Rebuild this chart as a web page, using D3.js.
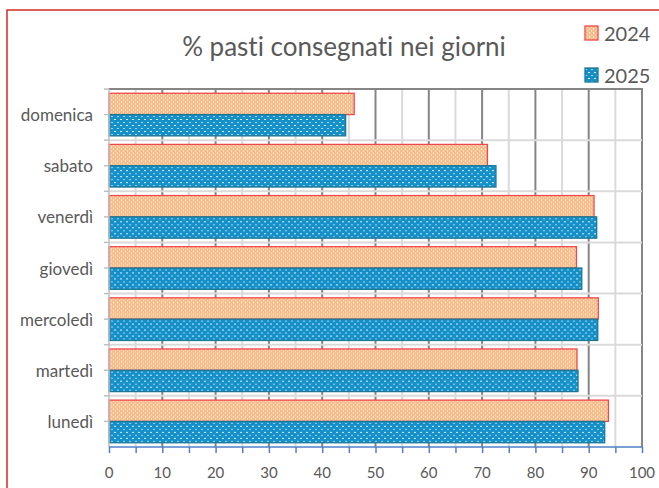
<!DOCTYPE html>
<html>
<head>
<meta charset="utf-8">
<script src="https://cdn.jsdelivr.net/npm/d3@7"></script>
<style>
  body { margin: 0; background: #fff; }
  svg text { font-family: Lato, "Open Sans", sans-serif; fill: #595959; font-variant-ligatures: none; }
</style>
</head>
<body>
<svg id="chart" width="659" height="488"></svg>
<script>
// giorni dall'alto verso il basso
var days = ['domenica', 'sabato', 'venerdì', 'giovedì', 'mercoledì', 'martedì', 'lunedì'];
var years = ['2024', '2025'];
var values2024 = [46.0, 71.0, 91.0, 87.7, 91.8, 87.8, 93.7];
var values2025 = [44.4, 72.6, 91.5, 88.7, 91.7, 88.0, 93.0];
var xTicks = [0, 10, 20, 30, 40, 50, 60, 70, 80, 90, 100];

var svg = d3.select('#chart');
var plot = { left: 109, right: 642, top: 89, bottom: 447 };

var x = d3.scaleLinear().domain([0, 100]).range([plot.left, plot.right]);
var y = d3.scaleBand().domain(days).range([plot.top, plot.bottom]);
var ySub = d3.scaleBand().domain(years).range([0, y.bandwidth()]).paddingInner(0).paddingOuter(0.2);

// patterns
var defs = svg.append('defs');
var pOr = defs.append('pattern').attr('id', 'pat2024')
  .attr('patternUnits', 'userSpaceOnUse').attr('width', 4).attr('height', 4);
pOr.append('rect').attr('width', 4).attr('height', 4).attr('fill', '#fabb87');
pOr.append('rect').attr('x', 1).attr('y', 0).attr('width', 1).attr('height', 2).attr('fill', '#fff').attr('opacity', 0.7);
pOr.append('rect').attr('x', 3).attr('y', 2).attr('width', 1).attr('height', 2).attr('fill', '#fff').attr('opacity', 0.5);

var pBl = defs.append('pattern').attr('id', 'pat2025')
  .attr('patternUnits', 'userSpaceOnUse').attr('width', 6).attr('height', 6);
pBl.append('rect').attr('width', 6).attr('height', 6).attr('fill', '#1590c8');
pBl.append('rect').attr('x', 0).attr('y', 0).attr('width', 2).attr('height', 1).attr('fill', '#fff').attr('opacity', 0.85);
pBl.append('rect').attr('x', 3).attr('y', 3).attr('width', 2).attr('height', 1).attr('fill', '#fff').attr('opacity', 0.6);

var styles = {
  '2024': { fill: 'url(#pat2024)', stroke: '#f0474a' },
  '2025': { fill: 'url(#pat2025)', stroke: '#1b7896' }
};

// red frame
svg.append('rect').attr('x', 7).attr('y', 10).attr('width', 700).attr('height', 600)
  .attr('fill', 'none').attr('stroke', '#d42a2a').attr('stroke-width', 1.5);

// vertical gridlines every 5
var grid = svg.append('g');
d3.range(5, 101, 5).forEach(function(v) {
  grid.append('line')
    .attr('x1', x(v)).attr('x2', x(v)).attr('y1', plot.top).attr('y2', plot.bottom)
    .attr('stroke', v % 10 === 0 ? '#858585' : '#dadada').attr('stroke-width', 2);
});
// horizontal lines between categories
days.slice(1).forEach(function(d) {
  grid.append('line')
    .attr('x1', plot.left).attr('x2', plot.right).attr('y1', y(d)).attr('y2', y(d))
    .attr('stroke', '#dadada').attr('stroke-width', 2);
});
grid.append('line')
  .attr('x1', plot.left).attr('x2', plot.right + 1).attr('y1', plot.top).attr('y2', plot.top)
  .attr('stroke', '#858585').attr('stroke-width', 2);

// bars
var rows = days.map(function(d, i) {
  return { day: d, vals: [values2024[i], values2025[i]] };
});
var groups = svg.append('g').selectAll('g').data(rows).enter().append('g')
  .attr('transform', function(r) { return 'translate(0,' + y(r.day) + ')'; });
groups.selectAll('rect')
  .data(function(r) { return years.map(function(yr, k) { return { year: yr, v: r.vals[k] }; }); })
  .enter().append('rect')
  .attr('x', x(0))
  .attr('y', function(b) { return ySub(b.year); })
  .attr('width', function(b) { return x(b.v) - x(0); })
  .attr('height', ySub.bandwidth())
  .attr('fill', function(b) { return styles[b.year].fill; })
  .attr('stroke', function(b) { return styles[b.year].stroke; })
  .attr('stroke-width', 1.3);

// left axis
var yAxis = svg.append('g');
yAxis.append('line').attr('x1', plot.left).attr('x2', plot.left).attr('y1', plot.top).attr('y2', plot.bottom)
  .attr('stroke', '#bfbfbf').attr('stroke-width', 1.5);
days.forEach(function(d) {
  [y(d), y(d) + y.bandwidth() / 2].forEach(function(ty) {
    yAxis.append('line').attr('x1', plot.left - 5).attr('x2', plot.left).attr('y1', ty).attr('y2', ty)
      .attr('stroke', '#bfbfbf').attr('stroke-width', 1.5);
  });
  yAxis.append('text')
    .attr('x', 93).attr('y', y(d) + y.bandwidth() / 2)
    .attr('text-anchor', 'end').attr('dominant-baseline', 'central')
    .attr('font-size', 17).text(d);
});

// bottom axis (blue)
var xAxis = d3.axisBottom(x).tickValues(d3.range(0, 101, 5)).tickSize(6).tickFormat('');
var gx = svg.append('g').attr('transform', 'translate(0,' + plot.bottom + ')').call(xAxis);
gx.selectAll('path, line').attr('stroke', '#4f81c7').attr('stroke-width', 1.5);
gx.select('.domain').attr('d', 'M' + plot.left + ',0H' + plot.right);
svg.append('g').selectAll('text').data(xTicks).enter().append('text')
  .attr('x', function(v) { return x(v); }).attr('y', 472)
  .attr('text-anchor', 'middle').attr('dominant-baseline', 'central')
  .attr('font-size', 15).text(function(v) { return v; });

// title
svg.append('text').attr('x', 344).attr('y', 56).attr('text-anchor', 'middle')
  .attr('font-size', 26).text('% pasti consegnati nei giorni');

// legend
years.forEach(function(yr, i) {
  var ly = 26 + i * 42;
  svg.append('rect').attr('x', 585).attr('y', ly).attr('width', 13).attr('height', 14)
    .attr('fill', styles[yr].fill).attr('stroke', styles[yr].stroke).attr('stroke-width', 1.3);
  svg.append('text').attr('x', 604).attr('y', ly + 14.5).attr('font-size', 20).text(yr);
});
</script>
</body>
</html>
